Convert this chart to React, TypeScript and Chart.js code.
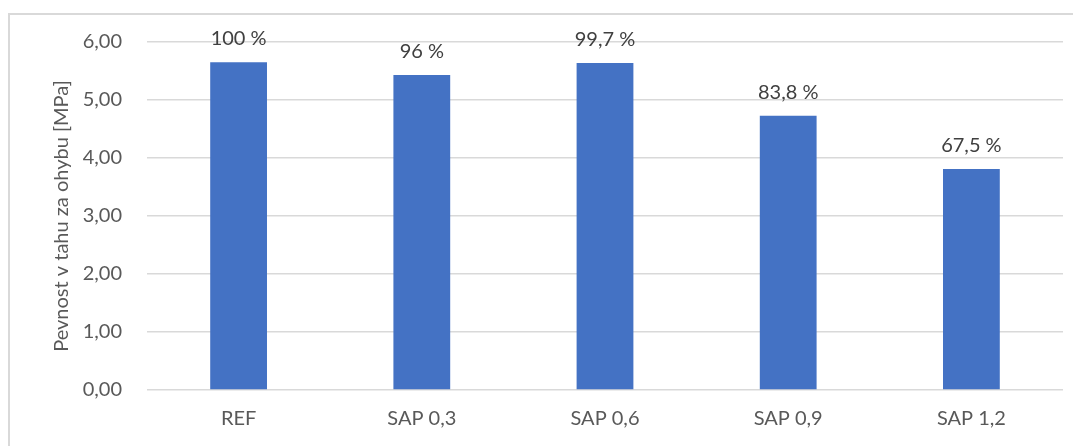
import React, { useEffect, useRef } from "react";
import { Chart, registerables } from "chart.js";

Chart.register(...registerables);

const categories = ["REF", "SAP 0,3", "SAP 0,6", "SAP 0,9", "SAP 1,2"];
const values = [5.65, 5.43, 5.64, 4.73, 3.81];
const percentLabels = ["100 %", "96 %", "99,7 %", "83,8 %", "67,5 %"];
const yAxisTitle = "Pevnost v tahu za ohybu [MPa]";

const FONT = "Lato, 'Open Sans', sans-serif";

const dataLabelPlugin = {
  id: "dataLabels",
  afterDatasetsDraw(chart: any) {
    const ctx = chart.ctx;
    const meta = chart.getDatasetMeta(0);
    ctx.save();
    ctx.font = `20px ${FONT}`;
    ctx.fillStyle = "#404040";
    ctx.textAlign = "center";
    ctx.textBaseline = "alphabetic";
    meta.data.forEach((bar: any, i: number) => {
      ctx.fillText(percentLabels[i], bar.x, bar.y - 17);
    });
    ctx.restore();
  },
};

export default function App() {
  const ref = useRef<HTMLCanvasElement>(null);
  useEffect(() => {
    if (!ref.current) return;
    const chart = new Chart(ref.current, {
      type: "bar",
      data: {
        labels: categories,
        datasets: [
          {
            data: values,
            backgroundColor: "#4472C4",
            barPercentage: 0.31,
            categoryPercentage: 1,
          },
        ],
      },
      options: {
        responsive: false,
        animation: false,
        layout: { padding: { top: 27, right: 18, left: 0, bottom: 0 } },
        plugins: {
          legend: { display: false },
          tooltip: { enabled: false },
        },
        scales: {
          x: {
            grid: { display: false, drawTicks: false },
            border: { display: false },
            ticks: {
              color: "#595959",
              font: { family: FONT, size: 20 },
              padding: 17,
            },
            afterFit: (s: any) => {
              s.height = 56;
            },
          },
          y: {
            min: 0,
            max: 6,
            grid: { color: "#d9d9d9", lineWidth: 1.5, drawTicks: false },
            border: { display: false },
            ticks: {
              stepSize: 1,
              color: "#595959",
              font: { family: FONT, size: 20 },
              padding: 25,
              callback: (v: any) => Number(v).toFixed(2).replace(".", ","),
            },
            title: {
              display: true,
              text: yAxisTitle,
              color: "#595959",
              font: { family: FONT, size: 20, weight: "normal" },
              padding: { top: 40, bottom: 0 },
            },
            afterFit: (s: any) => {
              s.width = 137;
              s.paddingTop = 0;
              s.paddingBottom = 0;
            },
          },
        },
      },
      plugins: [dataLabelPlugin],
    });
    return () => chart.destroy();
  }, []);

  return (
    <div style={{ width: 1073, height: 438, overflow: "hidden", paddingTop: 3 }}>
      <div
        style={{
          width: 1200,
          height: 500,
          borderTop: "2px solid #d9d9d9",
          borderLeft: "2px solid #d9d9d9",
          boxSizing: "border-box",
          marginTop: 2,
        }}
      >
        <canvas ref={ref} width={1071} height={431} style={{ display: "block" }} />
      </div>
    </div>
  );
}
